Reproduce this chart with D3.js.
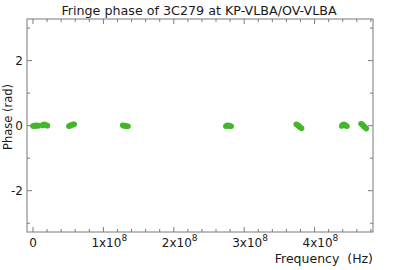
<!DOCTYPE html>
<html>
<head>
<meta charset="utf-8">
<script src="https://cdn.jsdelivr.net/npm/d3@7"></script>
<style>
  body { margin: 0; background: #fff; }
  svg { display: block; font-family: "DejaVu Sans", sans-serif; }
  .frame { fill: none; stroke: #7a7a7a; stroke-width: 1; }
  .tick-mark { stroke: #7a7a7a; stroke-width: 1; }
  text { fill: #1a1a1a; }
</style>
</head>
<body>
<svg id="chart" width="399" height="270"></svg>
<script>
// fringe phase clusters, frequency in Hz, phase in rad
var freqs = [
  0.0e6, 1.5e6, 3.0e6, 4.5e6, 6.0e6, 7.5e6,
  13.0e6, 14.5e6, 16.0e6, 17.5e6, 19.0e6, 20.5e6,
  51.0e6, 52.5e6, 54.0e6, 55.5e6, 57.0e6, 58.5e6,
  127.5e6, 129.0e6, 130.5e6, 132.0e6, 133.5e6, 135.0e6,
  274.0e6, 275.5e6, 277.0e6, 278.5e6, 280.0e6, 281.5e6,
  374.0e6, 375.5e6, 377.0e6, 378.5e6, 380.0e6, 381.5e6,
  438.5e6, 440.0e6, 441.5e6, 443.0e6, 444.5e6, 446.0e6,
  466.0e6, 467.5e6, 469.0e6, 470.5e6, 472.0e6, 473.5e6
];
var phases = [
  -0.01, 0.00, -0.01, 0.01, 0.00, 0.00,
  0.01, 0.02, 0.04, 0.03, 0.01, 0.00,
  -0.02, 0.00, 0.01, 0.03, 0.04, 0.04,
  0.01, 0.00, 0.00, -0.01, -0.02, -0.02,
  -0.02, 0.00, 0.01, 0.00, -0.01, -0.02,
  0.04, 0.02, 0.00, -0.03, -0.06, -0.08,
  -0.01, 0.03, 0.04, 0.03, 0.00, -0.02,
  0.06, 0.04, 0.00, -0.03, -0.06, -0.09
];
var xMajor = [0, 1e8, 2e8, 3e8, 4e8];
var xMantissa = ["0", "1x10", "2x10", "3x10", "4x10"];
var yMajor = [-2, 0, 2];
var yMinor = [-3, -1, 1, 3];

var svg = d3.select("#chart"),
    margin = {top: 19, right: 26, bottom: 38, left: 27},
    width = +svg.attr("width") - margin.left - margin.right,
    height = +svg.attr("height") - margin.top - margin.bottom,
    g = svg.append("g").attr("transform", "translate(" + margin.left + "," + margin.top + ")");

var x = d3.scaleLinear().domain([-0.085e8, 4.83e8]).range([0, width]);
var y = d3.scaleLinear().domain([-3.27, 3.28]).range([height, 0]);

// frame
g.append("rect").attr("class", "frame")
  .attr("x", 0).attr("y", 0).attr("width", width).attr("height", height);

// x ticks (inward, top and bottom)
var xMinor = d3.range(0, 4.81e8, 2e7);
xMinor.forEach(function (v) {
  var major = Math.abs(v % 1e8) < 1;
  var len = major ? 5 : 3;
  g.append("line").attr("class", "tick-mark")
    .attr("x1", x(v)).attr("x2", x(v)).attr("y1", height).attr("y2", height - len);
  g.append("line").attr("class", "tick-mark")
    .attr("x1", x(v)).attr("x2", x(v)).attr("y1", 0).attr("y2", len);
});

// y ticks (inward, left and right)
yMajor.concat(yMinor).forEach(function (v) {
  var len = yMajor.indexOf(v) >= 0 ? 5 : 3;
  g.append("line").attr("class", "tick-mark")
    .attr("x1", 0).attr("x2", len).attr("y1", y(v)).attr("y2", y(v));
  g.append("line").attr("class", "tick-mark")
    .attr("x1", width).attr("x2", width - len).attr("y1", y(v)).attr("y2", y(v));
});

// x tick labels
xMajor.forEach(function (v, i) {
  var t = g.append("text")
    .attr("y", height + 15)
    .style("font-size", "12px");
  if (i === 0) {
    t.attr("x", x(v)).attr("text-anchor", "middle").text(xMantissa[i]);
  } else {
    t.attr("x", x(v) - 12).attr("text-anchor", "start");
    t.append("tspan").text(xMantissa[i]);
    t.append("tspan").attr("dy", -6).style("font-size", "9px").text("8");
  }
});

// y tick labels
yMajor.forEach(function (v) {
  g.append("text")
    .attr("x", -4)
    .attr("y", y(v))
    .attr("dy", "0.35em")
    .attr("text-anchor", "end")
    .style("font-size", "12px")
    .text(v < 0 ? "-" + Math.abs(v) : v);
});

// points
g.selectAll("circle.pt")
  .data(freqs)
  .enter().append("circle")
    .attr("class", "pt")
    .attr("cx", function (d) { return x(d); })
    .attr("cy", function (d, i) { return y(phases[i]); })
    .attr("r", 2.8)
    .style("fill", "#42b72a");

// title and axis labels
svg.append("text")
  .attr("x", 199)
  .attr("y", 15)
  .attr("text-anchor", "middle")
  .style("font-size", "12.7px")
  .text("Fringe phase of 3C279 at KP-VLBA/OV-VLBA");

svg.append("text")
  .attr("x", margin.left + width)
  .attr("y", 263)
  .attr("text-anchor", "end")
  .style("font-size", "12.5px")
  .attr("xml:space", "preserve")
  .text("Frequency  (Hz)");

svg.append("text")
  .attr("transform", "translate(12,117) rotate(-90)")
  .attr("text-anchor", "middle")
  .style("font-size", "11.5px")
  .text("Phase (rad)");
</script>
</body>
</html>
